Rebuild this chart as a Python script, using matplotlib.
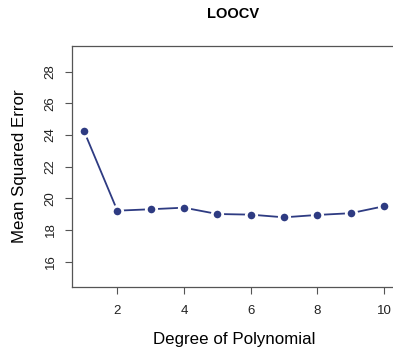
import matplotlib
matplotlib.use("Agg")
import matplotlib.pyplot as plt
import numpy as np

plt.rcParams['font.family'] = ['Liberation Sans', 'DejaVu Sans']

degree = [1, 2, 3, 4, 5, 6, 7, 8, 9, 10]
mse = [24.25, 19.22, 19.31, 19.41, 19.01, 18.97, 18.80, 18.95, 19.06, 19.50]
xticks = [2, 4, 6, 8, 10]
yticks = [16, 18, 20, 22, 24, 26, 28]

col = "#2E3B82"
grey = "#555555"

fig = plt.figure(figsize=(3.93, 3.49), dpi=100)
# axes runs a little past the right edge, as in the cropped original
ax = fig.add_axes([72/393, 1-287/349, (396-72)/393, (287-46)/349])

ax.plot(degree, mse, color=col, lw=1.3, marker="o", ms=7.5,
        mfc=col, mec="white", mew=2.0)

ax.set_xlim(0.64, 10.36)
ax.set_ylim(14.4, 29.62)
ax.set_xticks(xticks)
ax.set_yticks(yticks)
ax.set_yticklabels([str(t) for t in yticks], rotation=90, va="center")
ax.tick_params(colors=grey, labelcolor="#222222", labelsize=9.5,
               length=5, width=0.8, direction="out")
ax.tick_params(axis="x", pad=8)
ax.tick_params(axis="y", pad=6)
for s in ax.spines.values():
    s.set_color(grey)
    s.set_linewidth(0.9)

ax.set_xlabel("Degree of Polynomial", fontsize=12.2, labelpad=11)
ax.set_ylabel("Mean Squared Error", fontsize=12.2, labelpad=13)
fig.text(233/393, 1-14/349, "LOOCV", ha="center", va="center",
         fontsize=10.5, fontweight="bold")

fig.savefig("out.png", dpi=100)
